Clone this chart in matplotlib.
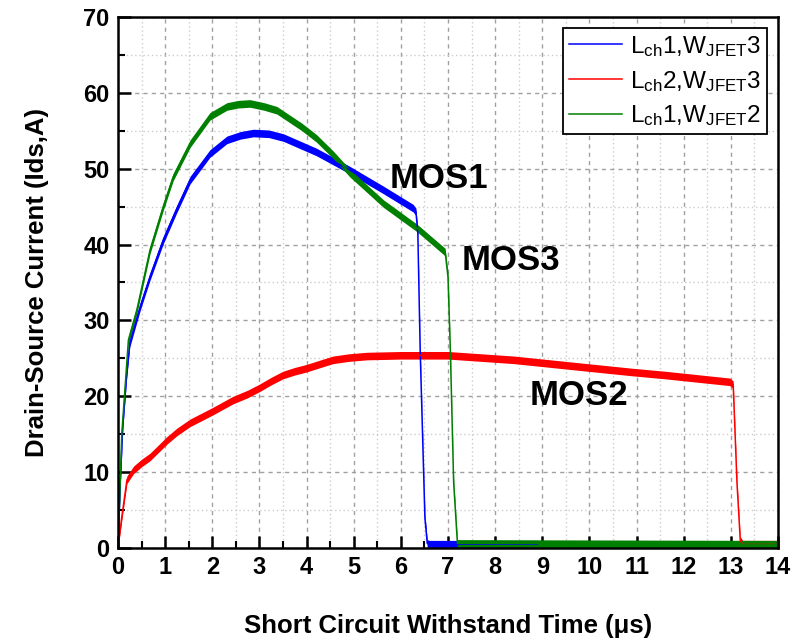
import matplotlib
matplotlib.use("Agg")
import matplotlib.pyplot as plt  # plotting
from matplotlib.ticker import MultipleLocator

#  ---------------------  Data  -------------------------------------------------
# MOS1 : Lch1, WJFET3
blue_x = [0, 0.05, 0.1, 0.18, 0.25, 0.47, 0.68, 0.96, 1.24, 1.53, 1.95,
          2.31, 2.6, 2.87, 3.2, 3.51, 4.21, 4.92, 5.63, 6.26, 6.32, 6.36,
          6.41, 6.51, 6.56, 6.6, 8.9]
blue_y = [0, 9, 16, 22.6, 27.0, 31.8, 35.8, 40.6, 44.6, 48.5, 52.0,
          53.8, 54.4, 54.7, 54.6, 54.1, 52.2, 49.8, 47.2, 44.8, 44.3, 41.5,
          26, 4, 0.6, 0.5, 0.5]

# MOS2 : Lch2, WJFET3
red_x = [0, 0.08, 0.19, 0.33, 0.5, 0.68, 1.04, 1.25, 1.53, 1.75, 2.0, 2.44,
         2.75, 3.0, 3.25, 3.5, 3.75, 4.0, 4.25, 4.56, 4.9, 5.28, 6.0, 7.0,
         8.4, 9.8, 10.9, 11.6, 12.98, 13.05, 13.13, 13.2, 13.25, 14]
red_y = [0, 4.1, 9, 10.3, 11.2, 12, 14.2, 15.3, 16.5, 17.2, 18, 19.5,
         20.3, 21.1, 22.0, 22.8, 23.3, 23.7, 24.2, 24.8, 25.1, 25.3, 25.4,
         25.4, 24.8, 23.9, 23.2, 22.8, 21.9, 21.5, 8.6, 1, 0.5, 0.5]

# MOS3 : Lch1, WJFET2
green_x = [0, 0.08, 0.22, 0.40, 0.68, 0.96, 1.17, 1.53, 1.95, 2.31, 2.55,
           2.80, 3.1, 3.37, 3.9, 4.21, 4.57, 4.92, 5.63, 6.34, 6.94, 7.0,
           7.05, 7.12, 7.2, 14]
green_y = [0, 15, 27.4, 31.4, 39.3, 45.0, 48.9, 53.3, 56.9, 58.2, 58.5,
           58.6, 58.2, 57.7, 55.5, 54.0, 51.8, 49.4, 45.4, 42.2, 39, 35.7,
           26, 8.6, 0.6, 0.5]

labels = [r'L$\mathregular{_{ch}}$1,W$\mathregular{_{JFET}}$3',
          r'L$\mathregular{_{ch}}$2,W$\mathregular{_{JFET}}$3',
          r'L$\mathregular{_{ch}}$1,W$\mathregular{_{JFET}}$2']

annotations = [("MOS1", 5.77, 47.5), ("MOS3", 7.28, 36.6), ("MOS2", 8.74, 18.9)]

#  ---------------------  Style  --------------------------
NOISE = 0.5  # half height of the measurement noise band (A)

plt.rcParams['font.family'] = ['Liberation Sans', 'DejaVu Sans']

fig = plt.figure(figsize=(7.99, 6.38), dpi=100)
ax = fig.add_axes([0.1477, 0.1411, 0.826, 0.8323])

series = [(blue_x, blue_y, '#0000ff'),
          (red_x, red_y, '#ff0000'),
          (green_x, green_y, '#008000')]

for (xs, ys, col), lab in zip(series, labels):
    lo = [max(v - NOISE, 0) for v in ys]
    hi = [v + NOISE for v in ys]
    ax.fill_between(xs, lo, hi, color=col, lw=0)
    ax.plot(xs, ys, color=col, lw=1.1, label=lab)

for txt, x, y in annotations:
    ax.text(x, y, txt, fontsize=25, fontweight='bold', ha='left',
            va='baseline')

ax.set_xlim(0, 14)
ax.set_ylim(0, 70)
ax.xaxis.set_major_locator(MultipleLocator(1))
ax.xaxis.set_minor_locator(MultipleLocator(0.5))
ax.yaxis.set_major_locator(MultipleLocator(10))
ax.yaxis.set_minor_locator(MultipleLocator(5))

ax.grid(which='major', color='#a0a0a0', ls=(0, (3, 3)), lw=1)
ax.grid(which='minor', color='#cccccc', ls=(0, (1, 2)), lw=1)
ax.set_axisbelow(True)

ax.tick_params(which='major', direction='in', length=9, width=1.8,
               labelsize=17, pad=6)
ax.tick_params(which='minor', direction='in', length=5, width=1.5)
for lab in ax.get_xticklabels() + ax.get_yticklabels():
    lab.set_fontweight('bold')
for sp in ax.spines.values():
    sp.set_linewidth(1.8)

ax.set_xlabel('Short Circuit Withstand Time (μs)', fontsize=18.5,
              fontweight='bold', labelpad=25)
ax.set_ylabel('Drain-Source Current (Ids,A)', fontsize=18.5,
              fontweight='bold', labelpad=25)

leg = ax.legend(loc='upper right', fontsize=17.5, fancybox=False,
                framealpha=1, edgecolor='black', handlelength=2.2,
                handletextpad=0.3, borderpad=0.25, labelspacing=0.4,
                borderaxespad=0.45)
leg.get_frame().set_linewidth(1.3)

fig.savefig('out.png', dpi=100)
